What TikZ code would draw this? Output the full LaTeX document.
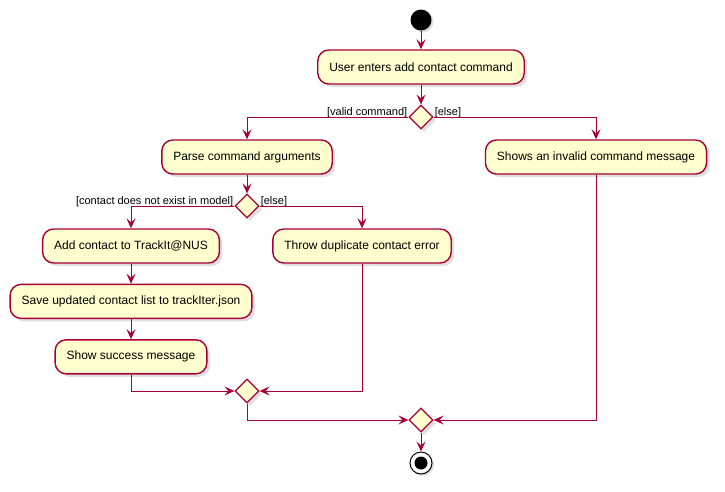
\documentclass[tikz,border=0pt]{standalone}
\usepackage{fontspec}
\setmainfont{Liberation Sans}
\usetikzlibrary{arrows.meta, positioning, shapes.geometric, shadows}
\definecolor{umlred}{HTML}{A80036}
\definecolor{umlfill}{HTML}{FEFECE}
\tikzset{
  activity/.style={
	x=1pt, y=-1pt, % one unit is one pixel of the picture
	>={Stealth[length=10pt, width=9pt, inset=4pt]}, % arrow heads like the uml ones
	every node/.style={font=\fontsize{12}{14}\selectfont},
	act/.style={draw=umlred, line width=1.4pt, fill=umlfill, rounded corners=11pt,
		minimum height=34pt, inner xsep=11.5pt, % the action boxes
		drop shadow={shadow xshift=3pt, shadow yshift=-3pt, opacity=0.25}},
	branch/.style={diamond, draw=umlred, line width=1.2pt, fill=umlfill, aspect=1,
		minimum width=24pt, minimum height=24pt, inner sep=0pt, % decisions and merges
		drop shadow={shadow xshift=3pt, shadow yshift=-3pt, opacity=0.25}},
	guard/.style={font=\fontsize{11}{12}\selectfont, inner sep=1pt, yshift=-2pt}, % the [..] texts
	flow/.style={->, draw=umlred, line width=1pt},
  }
}
\begin{document}
\begin{tikzpicture}[activity]
\useasboundingbox (0,0) rectangle (725,491);

\node[circle, fill=black, minimum size=21pt, inner sep=0pt,
	drop shadow={shadow xshift=2pt, shadow yshift=-2pt, opacity=0.25}] (start) at (421,20) {};
\node[act] (enter) at (421,67) {User enters add contact command};
\node[branch] (d1) at (421,117) {};
\node[guard, anchor=south east] (validtxt) at (d1.west) {[valid command]};
\node[guard, anchor=south west] (elsetxt) at (d1.east) {[else]};

\node[act] (parse) at (247,157) {Parse command arguments};
\node[act] (invalid) at (596,157) {Shows an invalid command message};
\node[branch] (d2) at (247,206) {};
\node[guard, anchor=south east] (newtxt) at (d2.west) {[contact does not exist in model]};
\node[guard, anchor=south west] (dupetxt) at (d2.east) {[else]};

\node[act] (add) at (131,246) {Add contact to TrackIt@NUS};
\node[act, below=20pt of add] (save) {Save updated contact list to trackIter.json};
\node[act, below=20pt of save] (success) {Show success message};
\node[act] (throw) at (362,246) {Throw duplicate contact error};

\node[branch] (d3) at (247,391) {};
\node[branch] (d4) at (421,420) {};
\node[circle, draw=black, line width=1pt, fill=white, minimum size=22pt, inner sep=0pt,
	drop shadow={shadow xshift=2pt, shadow yshift=-2pt, opacity=0.25}] (stop) at (421,463) {};
\fill[black] (stop.center) circle (6.5pt);

% flow of control
\draw[flow] (start) -- (enter);
\draw[flow] (enter) -- (d1);
\draw[flow] (d1.west) -| (parse);
\draw[flow] (d1.east) -| (invalid);
\draw[flow] (parse) -- (d2);
\draw[flow] (d2.west) -| (add);
\draw[flow] (d2.east) -| (throw);
\draw[flow] (add) -- (save);
\draw[flow] (save) -- (success);
\draw[flow] (success.south) |- (d3.west);
\draw[flow] (throw.south) |- (d3.east);
\draw[flow] (d3.south) |- (d4.west);
\draw[flow] (invalid.south) |- (d4.east);
\draw[flow] (d4) -- (stop);
\end{tikzpicture}
\end{document}
